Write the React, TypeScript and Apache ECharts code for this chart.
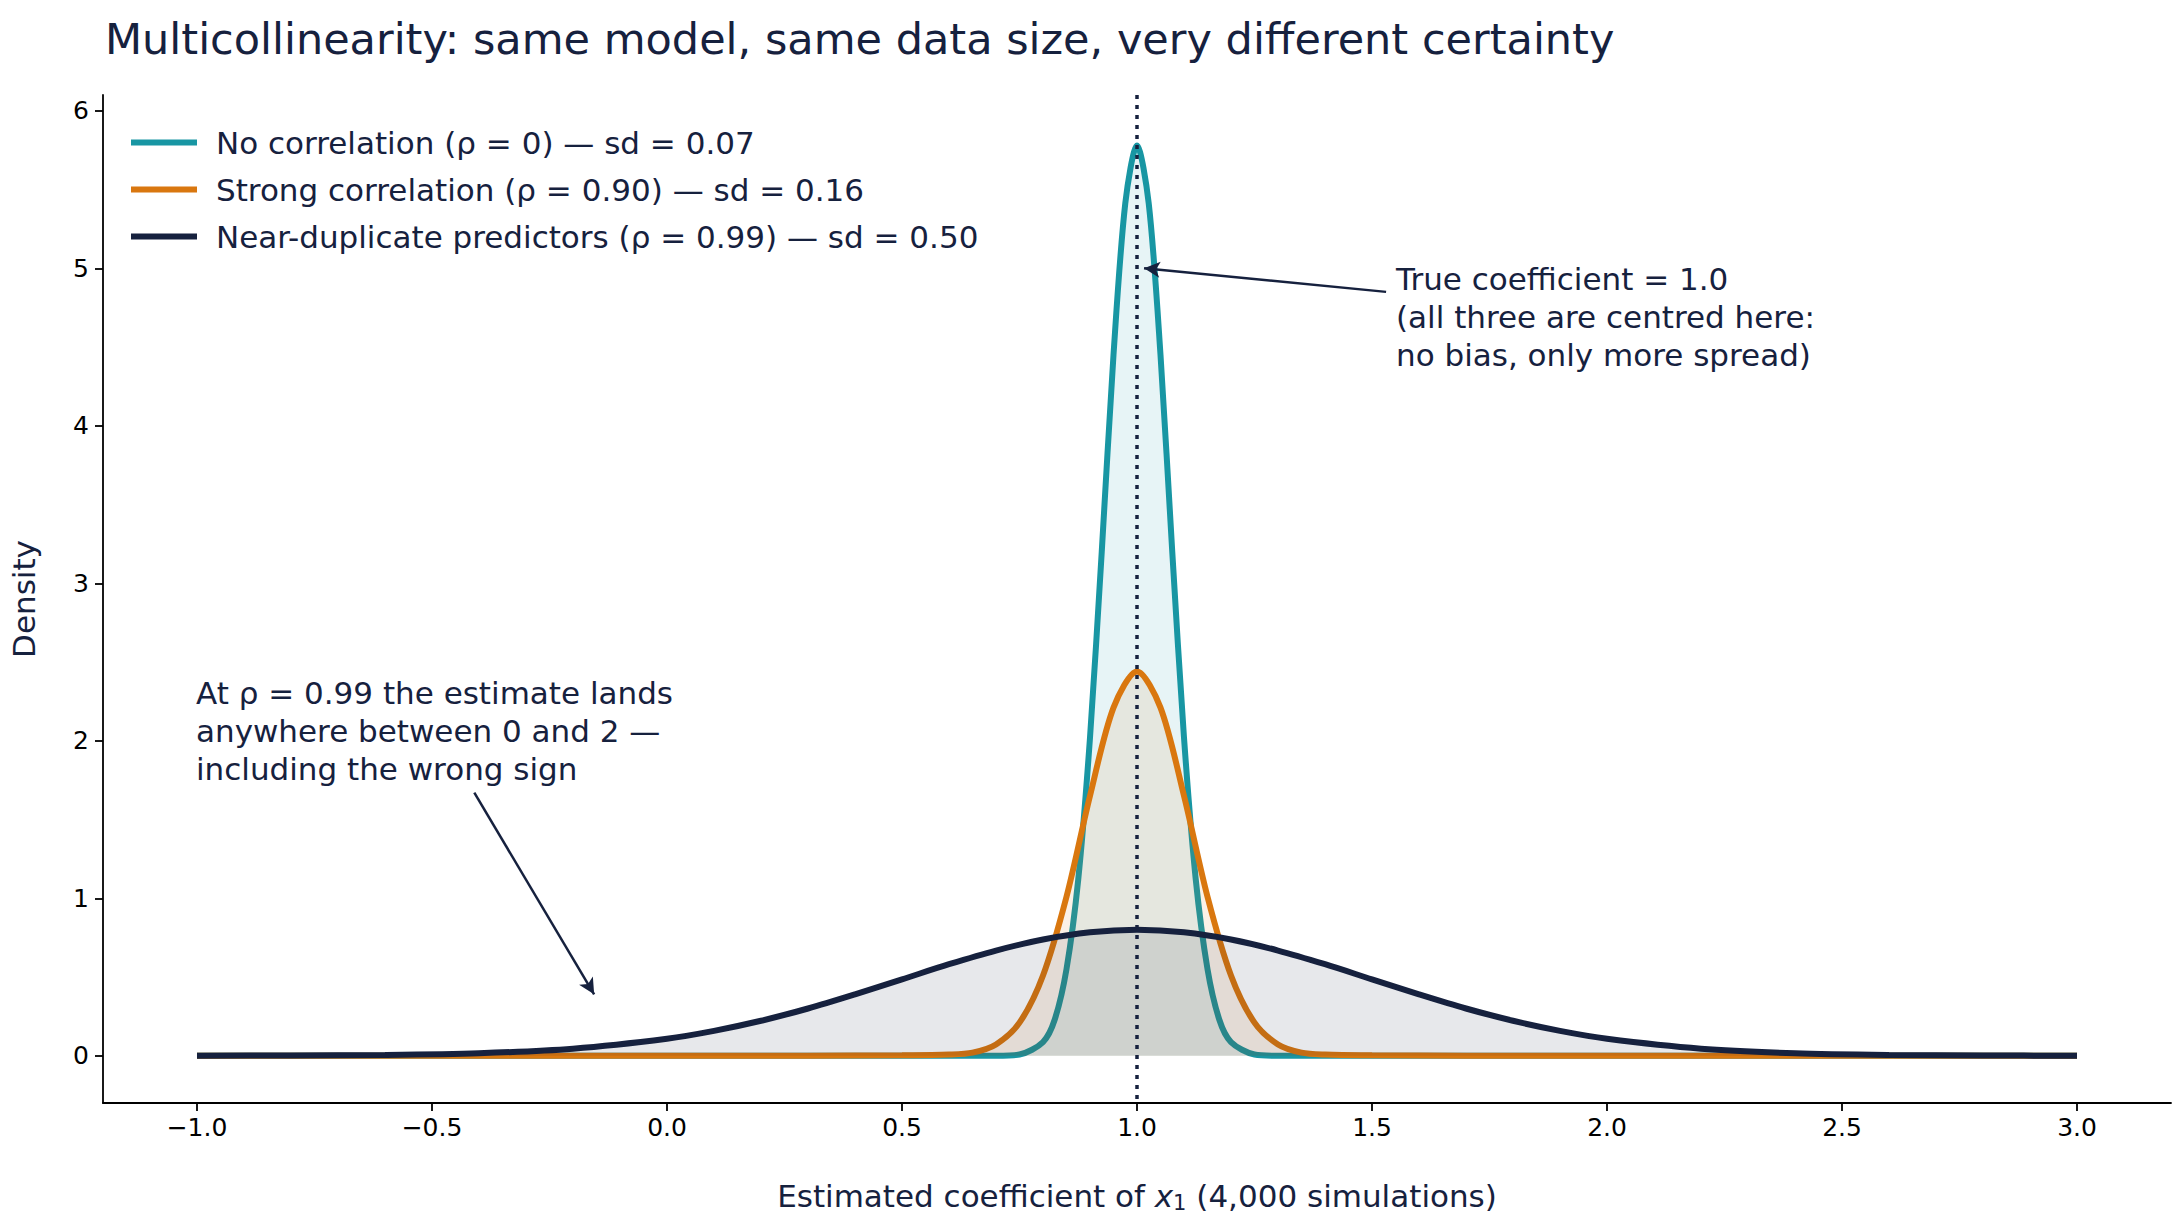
import { useEffect, useRef } from "react";
import * as echarts from "echarts";

const xTicks = [-1, -0.5, 0, 0.5, 1, 1.5, 2, 2.5, 3];
const yTicks = [0, 1, 2, 3, 4, 5, 6];

// [x, density]
const noCorr: [number, number][] = [
  [-1, 0], [0.5, 0], [0.7, 0], [0.75, 0.008], [0.8, 0.087], [0.825, 0.23], [0.85, 0.55],
  [0.875, 1.12], [0.9, 2.02], [0.925, 3.2], [0.95, 4.45], [0.975, 5.41], [1.0, 5.78],
  [1.025, 5.41], [1.05, 4.45], [1.075, 3.2], [1.1, 2.02], [1.125, 1.12], [1.15, 0.55],
  [1.175, 0.23], [1.2, 0.087], [1.25, 0.008], [1.3, 0], [1.5, 0], [3, 0],
];
const strongCorr: [number, number][] = [
  [-1, 0], [0.3, 0], [0.5, 0.003], [0.6, 0.008], [0.65, 0.02], [0.7, 0.072], [0.75, 0.21],
  [0.8, 0.51], [0.85, 1.01], [0.9, 1.65], [0.95, 2.21], [1.0, 2.44], [1.05, 2.21],
  [1.1, 1.65], [1.15, 1.01], [1.2, 0.51], [1.25, 0.21], [1.3, 0.072], [1.35, 0.02],
  [1.4, 0.008], [1.5, 0.003], [1.7, 0], [3, 0],
];
const nearDup: [number, number][] = [
  [-1, 0.0003], [-0.8, 0.0015], [-0.6, 0.005], [-0.4, 0.016], [-0.2, 0.045], [0, 0.108],
  [0.1, 0.158], [0.2, 0.222], [0.3, 0.3], [0.4, 0.39], [0.5, 0.485], [0.6, 0.581],
  [0.7, 0.668], [0.8, 0.738], [0.9, 0.784], [1.0, 0.8], [1.1, 0.784], [1.2, 0.738],
  [1.3, 0.668], [1.4, 0.581], [1.5, 0.485], [1.6, 0.39], [1.7, 0.3], [1.8, 0.222],
  [1.9, 0.158], [2.0, 0.108], [2.2, 0.045], [2.4, 0.016], [2.6, 0.005], [2.8, 0.0015],
  [3.0, 0.0003],
];

const NAVY = "#16213e";
const TEAL = "#1896a3";
const ORANGE = "#d9770f";
const FONT = "DejaVu Sans";

const fmt = (v: number) => (v < 0 ? "\u2212" + Math.abs(v).toFixed(1) : v.toFixed(1));

export default function App() {
  const ref = useRef<HTMLDivElement>(null);

  useEffect(() => {
    document.body.style.margin = "0";
    if (!ref.current) return;
    const chart = echarts.init(ref.current, null, { renderer: "svg" });
    const curve = (name: string, data: [number, number][], color: string, z: number) => ({
      name,
      type: "line",
      data,
      smooth: 0.3,
      showSymbol: false,
      z,
      lineStyle: { color, width: 6 },
      itemStyle: { color },
      areaStyle: { color, opacity: 0.1 },
    });
    const axisLine = { show: true, onZero: false, lineStyle: { color: "#000", width: 1.8 } };
    chart.setOption({
      animation: false,
      textStyle: { fontFamily: FONT, color: NAVY },
      title: {
        text: "Multicollinearity: same model, same data size, very different certainty",
        left: 100,
        top: 12,
        textStyle: { fontSize: 43, fontWeight: "normal", color: NAVY, fontFamily: FONT },
      },
      legend: {
        orient: "vertical",
        left: 126,
        top: 122,
        itemWidth: 66,
        itemHeight: 6,
        itemGap: 16,
        icon: "rect",
        textStyle: { fontSize: 31, color: NAVY, fontFamily: FONT, padding: [0, 0, 0, 14] },
      },
      grid: { left: 102, right: 10, top: 95, bottom: 107 },
      xAxis: {
        type: "value",
        min: -1.2,
        max: 3.2,
        splitLine: { show: false },
        axisLine,
        axisTick: { customValues: xTicks, length: 8, lineStyle: { color: "#000", width: 1.8 } },
        axisLabel: { customValues: xTicks, formatter: fmt, fontSize: 25, color: "#000", margin: 12 },
        name: "{n|Estimated coefficient of }{i|x}{s|1}{n| (4,000 simulations)}",
        nameLocation: "middle",
        nameGap: 75,
        nameTextStyle: {
          rich: {
            n: { fontSize: 31, color: NAVY, fontFamily: FONT },
            i: { fontSize: 31, color: NAVY, fontFamily: FONT, fontStyle: "italic" },
            s: { fontSize: 21, color: NAVY, fontFamily: FONT, verticalAlign: "bottom", padding: [14, 0, 0, 0] },
          },
        },
      },
      yAxis: {
        type: "value",
        min: -0.3,
        max: 6.1,
        splitLine: { show: false },
        axisLine,
        axisTick: { show: true, customValues: yTicks, length: 8, lineStyle: { color: "#000", width: 1.8 } },
        axisLabel: { customValues: yTicks, fontSize: 25, color: "#000", margin: 14 },
        name: "Density",
        nameLocation: "middle",
        nameGap: 64,
        nameTextStyle: { fontSize: 31, color: NAVY },
      },
      series: [
        curve("No correlation (\u03c1 = 0) \u2014 sd = 0.07", noCorr, TEAL, 3),
        curve("Strong correlation (\u03c1 = 0.90) \u2014 sd = 0.16", strongCorr, ORANGE, 4),
        {
          ...curve("Near-duplicate predictors (\u03c1 = 0.99) \u2014 sd = 0.50", nearDup, NAVY, 5),
          markLine: {
            silent: true,
            symbol: ["none", "none"],
            label: { show: false },
            data: [
              [
                { coord: [1, 6.1], lineStyle: { type: [4, 6], color: NAVY, width: 3.5 } },
                { coord: [1, -0.3] },
              ],
              [
                { coord: [1.53, 4.85], symbol: "none", lineStyle: { type: "solid", color: NAVY, width: 2.5 } },
                { coord: [1.015, 5.0], symbol: "arrow", symbolSize: [12, 16] },
              ],
              [
                { coord: [-0.41, 1.67], symbol: "none", lineStyle: { type: "solid", color: NAVY, width: 2.5 } },
                { coord: [-0.155, 0.39], symbol: "arrow", symbolSize: [12, 16] },
              ],
            ],
          },
        },
      ],
      graphic: [
        {
          type: "text",
          left: 1396,
          top: 260,
          style: {
            text: "True coefficient = 1.0\n(all three are centred here:\nno bias, only more spread)",
            fontSize: 31,
            lineHeight: 38,
            fill: NAVY,
            fontFamily: FONT,
          },
        },
        {
          type: "text",
          left: 196,
          top: 674,
          style: {
            text: "At \u03c1 = 0.99 the estimate lands\nanywhere between 0 and 2 \u2014\nincluding the wrong sign",
            fontSize: 31,
            lineHeight: 38,
            fill: NAVY,
            fontFamily: FONT,
          },
        },
      ],
    });
    return () => chart.dispose();
  }, []);

  return <div ref={ref} style={{ width: 2181, height: 1218 }} />;
}
